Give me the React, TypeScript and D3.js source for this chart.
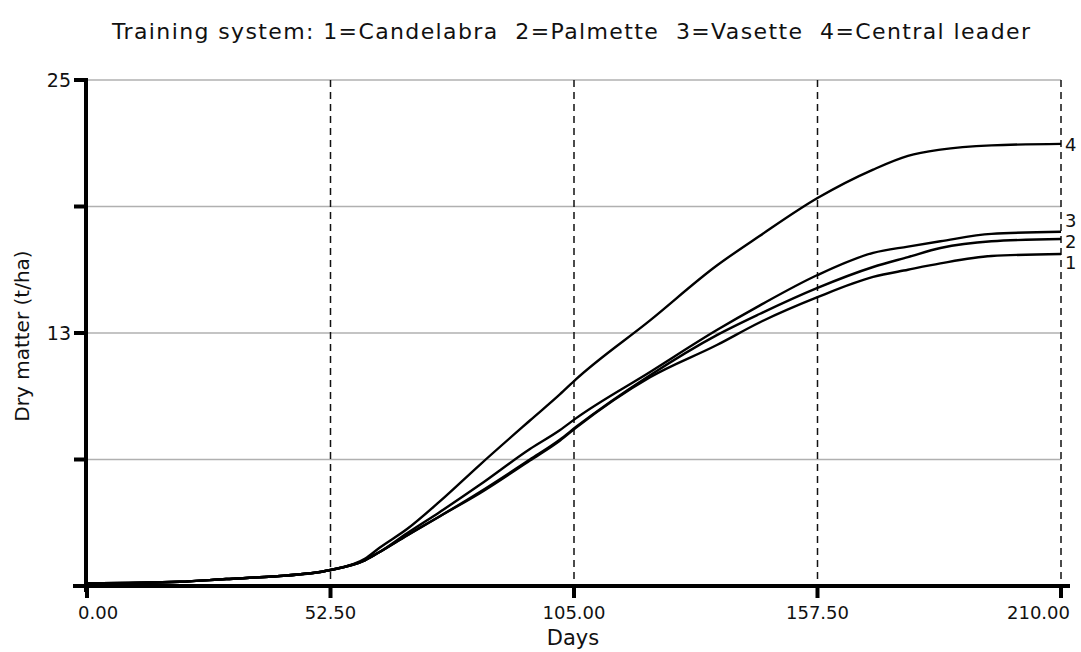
import React from "react";
import * as d3 from "d3";

// days sampled along the curves
const days = [0, 20, 30, 40, 52.5, 60, 63, 69, 76, 84.7, 95.5, 102, 105.4, 121.4, 135.8, 145, 157.5, 169.5, 177, 184, 195, 210];

// dry matter (t/ha) per training system
const candelabra = [1.12, 1.2, 1.33, 1.45, 1.76, 2.23, 2.6, 3.4, 4.3, 5.4, 6.95, 7.9, 8.5, 10.9, 12.43, 13.5, 14.7, 15.66, 16.0, 16.3, 16.65, 16.75];
const palmette = [1.12, 1.2, 1.33, 1.45, 1.76, 2.23, 2.6, 3.4, 4.3, 5.46, 7.0, 7.95, 8.54, 11.0, 12.9, 13.9, 15.14, 16.13, 16.6, 17.03, 17.35, 17.46];
const vasette = [1.12, 1.2, 1.33, 1.45, 1.76, 2.23, 2.6, 3.5, 4.5, 5.8, 7.5, 8.4, 8.95, 11.15, 13.14, 14.3, 15.75, 16.8, 17.1, 17.35, 17.7, 17.8];
const centralLeader = [1.12, 1.2, 1.33, 1.45, 1.76, 2.3, 2.8, 3.7, 5.0, 6.75, 8.85, 10.1, 10.8, 13.6, 16.2, 17.6, 19.4, 20.75, 21.4, 21.7, 21.9, 21.97];

const seriesNames = ["1", "2", "3", "4"];
const seriesValues = [candelabra, palmette, vasette, centralLeader];
const labelY = [263, 242, 221, 145]; // end label positions, spread like the original

const xTicks = [0, 52.5, 105, 157.5, 210];
const yTicks = [1, 7, 13, 19, 25];
const yLabels = [13, 25];

const W = 1081;
const H = 652;
const FONT = "'DejaVu Sans', Verdana, sans-serif";

export default function App() {
  const x = d3.scaleLinear().domain([0, 210]).range([87, 1061]);
  const y = d3.scaleLinear().domain([1, 25]).range([586, 80]);

  const line = d3
    .line<number>()
    .x((_, i) => x(days[i]))
    .y((d) => y(d))
    .curve(d3.curveMonotoneX);

  return (
    <svg
      width={W}
      height={H}
      style={{ position: "absolute", left: 0, top: 0, background: "#fff" }}
      fontFamily={FONT}
    >
      <text x={112} y={39} fontSize={22} fill="#111" textLength={918} lengthAdjust="spacing">
        Training system: 1=Candelabra{"\u00a0\u00a0"}2=Palmette{"\u00a0\u00a0"}3=Vasette{"\u00a0\u00a0"}4=Central leader
      </text>

      {/* horizontal grid */}
      {yTicks.slice(1).map((t) => (
        <line key={"g" + t} x1={x(0)} x2={x(210)} y1={y(t)} y2={y(t)} stroke="#b0b0b0" strokeWidth={1.5} />
      ))}

      {/* vertical dashed lines */}
      {xTicks.slice(1).map((t) => (
        <line key={"v" + t} x1={x(t)} x2={x(t)} y1={y(25)} y2={y(1)} stroke="#111" strokeWidth={1.5} strokeDasharray="7,5" />
      ))}

      {/* curves */}
      {seriesValues.map((vals, i) => (
        <path key={"s" + i} d={line(vals) || ""} fill="none" stroke="#000" strokeWidth={2.4} />
      ))}

      {seriesNames.map((n, i) => (
        <text key={"l" + n} x={1065} y={labelY[i]} dy="0.35em" fontSize={18} fill="#111">
          {n}
        </text>
      ))}

      {/* axes */}
      <line x1={86} x2={86} y1={78} y2={592} stroke="#000" strokeWidth={4} />
      <line x1={73} x2={1070} y1={586} y2={586} stroke="#000" strokeWidth={4} />
      {yTicks.map((t) => (
        <line key={"yt" + t} x1={74} x2={86} y1={y(t)} y2={y(t)} stroke="#000" strokeWidth={4} />
      ))}
      {xTicks.map((t) => (
        <line key={"xt" + t} x1={x(t)} x2={x(t)} y1={586} y2={598} stroke="#000" strokeWidth={4} />
      ))}

      {yLabels.map((t) => (
        <text key={"yl" + t} x={71} y={y(t)} dy="0.35em" textAnchor="end" fontSize={19} fill="#111">
          {t}
        </text>
      ))}
      {xTicks.map((t, i) => {
        const anchor = i === 0 ? "start" : i === xTicks.length - 1 ? "end" : "middle";
        const px = i === 0 ? 78 : i === xTicks.length - 1 ? 1070 : x(t);
        return (
          <text key={"xl" + t} x={px} y={619} textAnchor={anchor} fontSize={18} fill="#111">
            {t.toFixed(2)}
          </text>
        );
      })}

      <text x={573} y={645} textAnchor="middle" fontSize={21} fill="#111">
        Days
      </text>
      <text transform="translate(29,336) rotate(-90)" textAnchor="middle" fontSize={20} fill="#111">
        Dry matter (t/ha)
      </text>
    </svg>
  );
}
